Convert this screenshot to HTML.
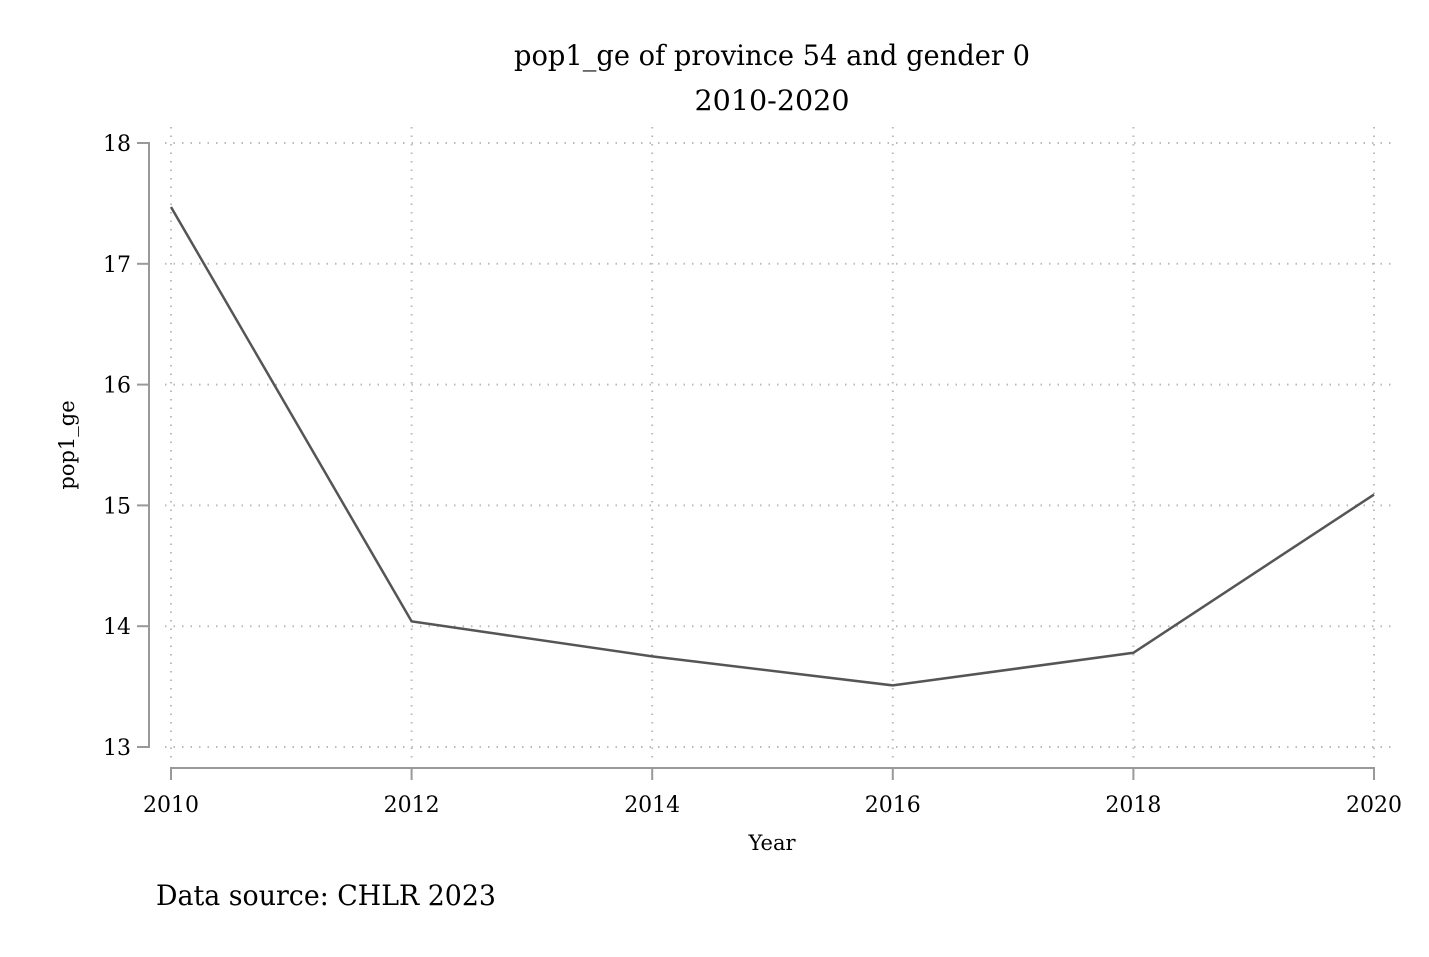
<!DOCTYPE html>
<html><head><meta charset="utf-8"><style>
body{margin:0;background:#fff;}
svg text{font-family:"DejaVu Serif","Liberation Serif",serif;fill:#000;}
</style></head><body>
<svg width="1429" height="952" xmlns="http://www.w3.org/2000/svg">
<g id="grid"></g>
<g id="axes"></g>
<g id="marks"></g>
<text x="772" y="65" font-size="28" text-anchor="middle" textLength="516" lengthAdjust="spacingAndGlyphs">pop1_ge of province 54 and gender 0</text>
<text x="772" y="110" font-size="28" text-anchor="middle" textLength="155" lengthAdjust="spacingAndGlyphs">2010-2020</text>
<text x="772" y="850" font-size="21" text-anchor="middle">Year</text>
<text transform="translate(74,445) rotate(-90)" font-size="21" text-anchor="middle">pop1_ge</text>
<text x="156" y="905" font-size="28" textLength="340" lengthAdjust="spacingAndGlyphs">Data source: CHLR 2023</text>
</svg>
<script>
const years=[2010,2012,2014,2016,2018,2020];
const values=[17.47,14.04,13.75,13.51,13.78,15.09];
const yTicks=[13,14,15,16,17,18];
const xTicks=[2010,2012,2014,2016,2018,2020];
const NS="http://www.w3.org/2000/svg";
const X=v=>171+(v-2010)*(1374-171)/10;
const Y=v=>747-(v-13)*(747-143)/5;
function mk(tag,attrs,parent,text){const e=document.createElementNS(NS,tag);for(const k in attrs)e.setAttribute(k,attrs[k]);if(text!==undefined)e.textContent=text;document.getElementById(parent).appendChild(e);return e;}
yTicks.forEach(t=>{
 let g=mk('line',{x1:165,x2:1395,y1:Y(t),y2:Y(t),stroke:'#bbb','stroke-width':2,'stroke-dasharray':'1.5 7'},'grid');
 
 
 let tk=mk('line',{x1:137,x2:149,y1:Y(t),y2:Y(t),stroke:'#999','stroke-width':2},'axes');
 
 
 let lb=mk('text',{x:131,y:Y(t)+8,'font-size':22,'text-anchor':'end'},'axes',t);
 
 
});
xTicks.forEach(t=>{
 let g=mk('line',{x1:X(t),x2:X(t),y1:127,y2:760,stroke:'#bbb','stroke-width':2,'stroke-dasharray':'1.5 7'},'grid');
 
 
 let tk=mk('line',{x1:X(t),x2:X(t),y1:768,y2:780,stroke:'#999','stroke-width':2},'axes');
 
 
 let lb=mk('text',{x:X(t),y:812,'font-size':22,'text-anchor':'middle'},'axes',t);
 
 
});
let ya=mk('line',{x1:149,x2:149,y1:Y(18)-1,y2:Y(13)+1,stroke:'#999','stroke-width':2},'axes');


let xa=mk('line',{x1:X(2010)-1,x2:X(2020)+1,y1:768,y2:768,stroke:'#999','stroke-width':2},'axes');


let p=mk('polyline',{points:years.map((y,i)=>X(y)+','+Y(values[i])).join(' '),fill:'none',stroke:'#555','stroke-width':2.5},'marks');


</script>
</body></html>
